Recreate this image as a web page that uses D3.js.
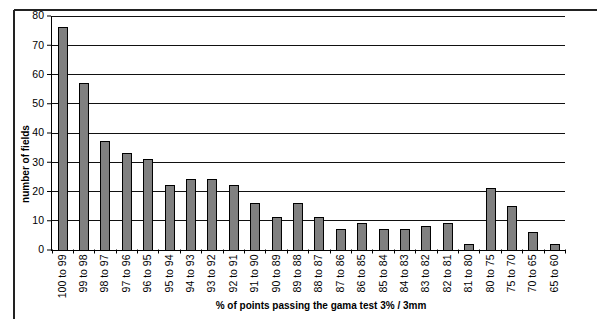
<!DOCTYPE html>
<html>
<head>
<meta charset="utf-8">
<script src="https://cdn.jsdelivr.net/npm/d3@7"></script>
<style>
  body { margin: 0; background: #fff; }
  svg { display: block; font-family: Arial, "Liberation Sans", sans-serif; }
</style>
</head>
<body>
<svg id="chart" width="597" height="319"></svg>
<script>
// data
var categories = ["100 to 99", "99 to 98", "98 to 97", "97 to 96", "96 to 95", "95 to 94",
  "94 to 93", "93 to 92", "92 to 91", "91 to 90", "90 to 89", "89 to 88", "88 to 87",
  "87 to 86", "86 to 85", "85 to 84", "84 to 83", "83 to 82", "82 to 81", "81 to 80",
  "80 to 75", "75 to 70", "70 to 65", "65 to 60"];
var fields = [76, 57, 37, 33, 31, 22, 24, 24, 22, 16, 11, 16, 11, 7, 9, 7, 7, 8, 9, 2, 21, 15, 6, 2];
var yTicks = [0, 10, 20, 30, 40, 50, 60, 70, 80];

var svg = d3.select("#chart");

// outer frame (only left and top edges show)
svg.append("line").attr("x1", 14).attr("x2", 597).attr("y1", 10).attr("y2", 10)
  .attr("stroke", "#222").attr("stroke-width", 2);
svg.append("line").attr("x1", 14).attr("x2", 14).attr("y1", 10).attr("y2", 319)
  .attr("stroke", "#222").attr("stroke-width", 2);

var x = d3.scaleBand().domain(categories).range([51.5, 565]).paddingInner(0.58).paddingOuter(0.29);
var y = d3.scaleLinear().domain([0, 80]).range([249.5, 15.5]);

// gridlines
svg.append("g").selectAll("line").data(yTicks.slice(1)).enter().append("line")
  .attr("x1", 51).attr("x2", 565)
  .attr("y1", d => Math.round(y(d)) + 0.5).attr("y2", d => Math.round(y(d)) + 0.5)
  .attr("stroke", "#111").attr("stroke-width", 1.2);

// bars
svg.append("g").selectAll("rect").data(fields).enter().append("rect")
  .attr("x", (d, i) => Math.round(x(categories[i])) + 0.5)
  .attr("y", d => Math.round(y(d)) + 0.5)
  .attr("width", x.bandwidth())
  .attr("height", d => Math.round(y(0)) - Math.round(y(d)))
  .attr("fill", "#808080")
  .attr("stroke", "#000")
  .attr("stroke-width", 1);

// y axis
var yAxis = svg.append("g").attr("transform", "translate(51,0)")
  .call(d3.axisLeft(y).tickValues(yTicks).tickSize(4).tickSizeOuter(0));
yAxis.select(".domain").attr("stroke", "#000");
yAxis.selectAll("text").attr("font-size", 10.5).attr("fill", "#000")
  .attr("font-family", "Arial, 'Liberation Sans', sans-serif");

// x axis: ticks at the category boundaries
var step = x.step();
var bounds = d3.range(categories.length + 1).map(i => x.range()[0] + i * step);
var xg = svg.append("g");
xg.append("line").attr("x1", 51).attr("x2", 565)
  .attr("y1", Math.round(y(0)) + 0.5).attr("y2", Math.round(y(0)) + 0.5)
  .attr("stroke", "#000");
xg.selectAll("line.tk").data(bounds).enter().append("line").attr("class", "tk")
  .attr("x1", d => Math.round(d) + 0.5).attr("x2", d => Math.round(d) + 0.5)
  .attr("y1", y(0)).attr("y2", y(0) + 4)
  .attr("stroke", "#000");
xg.selectAll("text").data(categories).enter().append("text")
  .attr("transform", d => "translate(" + (x(d) + x.bandwidth() / 2 + 3.5) + "," + (y(0) + 5) + ") rotate(-90)")
  .attr("text-anchor", "end")
  .attr("font-size", 10.5)
  .text(d => d);

// axis titles
svg.append("text")
  .attr("transform", "translate(29,164) rotate(-90)")
  .attr("text-anchor", "middle")
  .attr("font-size", 10)
  .attr("font-weight", "bold")
  .text("number of fields");
svg.append("text")
  .attr("x", 321).attr("y", 309)
  .attr("text-anchor", "middle")
  .attr("font-size", 10)
  .attr("font-weight", "bold")
  .text("% of points passing the gama test 3% / 3mm");
</script>
</body>
</html>
